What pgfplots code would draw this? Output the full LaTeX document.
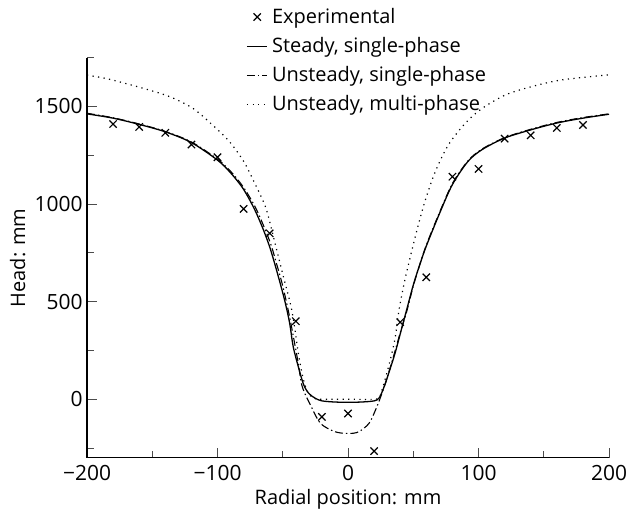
\documentclass[border=0pt]{standalone}
\usepackage{fontspec}
\setmainfont{Open Sans}
\usepackage{pgfplots}
\pgfplotsset{compat=1.18}

\begin{document}
\fontsize{10}{12}\selectfont
\begin{tikzpicture}
\begin{axis}[
    scale only axis,
    width=261.5pt, height=200.5pt,
    xmin=-200, xmax=200, ymin=-300, ymax=1750,
    axis x line=bottom, axis y line=left,
    axis line style={-, line width=0.6pt},
    xtick={-200,-100,0,100,200},
    xticklabels={−200,−100,0,100,200},
    minor xtick={-150,-50,50,150},
    ytick={0,500,1000,1500},
    minor ytick={-250,250,750,1250,1750},
    tick align=inside,
    major tick length=5pt, minor tick length=3.5pt,
    tick style={black!70, line width=0.5pt},
    /pgf/number format/assume math mode=true,
    tick label style={font=\fontsize{10.5}{12}\selectfont},
    xticklabel style={inner xsep=0pt},
    yticklabel style={/pgf/number format/1000 sep={}, inner xsep=2pt},
    xlabel={Radial position: mm},
    ylabel={Head: mm},
    xlabel style={at={(axis description cs:0.5,0)}, anchor=base,
        inner sep=0pt, yshift=-23.5pt},
    ylabel style={at={(axis description cs:-0.1185,0.5)}, anchor=base,
        inner xsep=0pt, inner ysep=5pt},
    legend style={at={(rel axis cs:0.293,1.145)}, anchor=north west,
        draw=none, fill=none, cells={anchor=west}, row sep=1.5pt},
    legend image code/.code={\draw[mark repeat=2,mark phase=2,#1]
        plot coordinates {(0cm,0cm) (0.18cm,0cm) (0.36cm,0cm)};},
]
\addplot[only marks, mark=x, mark size=2.6pt, line width=0.6pt] coordinates {
(-180,1410) (-160,1395) (-140,1365) (-120,1305) (-100,1240) (-80,975)
(-60,850) (-40,400) (-20,-90) (0,-73) (20,-265) (40,395) (60,625)
(80,1140) (100,1180) (120,1335) (140,1352) (160,1390) (180,1405)
};
\addlegendentry{Experimental}
\addplot[smooth, tension=0.5, line width=0.65pt] coordinates {
(-200,1462) (-180,1440) (-160,1408) (-140,1370) (-120,1315) (-100,1225)
(-90,1160) (-80,1075) (-70,950) (-60,780) (-50,545) (-45,400) (-42,270)
(-38,165) (-34,75) (-30,30) (-25,5) (-20,-8) (-10,-14) (0,-15) (10,-14)
(20,-8) (24,8) (28,70) (31,130) (36,235) (41,360) (45,460) (50,585)
(55,690) (60,785) (70,950) (80,1100) (92,1219) (103,1280) (120,1338)
(140,1380) (160,1415) (180,1440) (200,1460)
};
\addlegendentry{Steady, single-phase}
\addplot[smooth, tension=0.5, line width=0.55pt, dash pattern=on 4pt off 1.5pt on 0.7pt off 1.5pt] coordinates {
(-200,1465) (-180,1442) (-160,1410) (-140,1372) (-120,1318) (-100,1230)
(-90,1168) (-80,1085) (-70,970) (-60,810) (-55,700) (-50,580) (-45,430)
(-41,290) (-38,180) (-35,63) (-28,-40) (-21,-124) (-10,-166) (0,-175)
(8,-167) (16,-124) (21,-56) (25,12) (29,90) (34,200) (40,340) (45,450)
(50,580) (55,690) (60,790) (70,955) (80,1105) (92,1222) (103,1283) (120,1340)
(140,1383) (160,1418) (180,1443) (200,1462)
};
\addlegendentry{Unsteady, single-phase}
\addplot[smooth, tension=0.5, line width=0.6pt, dash pattern=on 0.6pt off 2.2pt] coordinates {
(-200,1660) (-184,1641) (-157,1593) (-137,1551) (-119,1491) (-104,1406)
(-91,1321) (-80,1219) (-71,1100) (-63,981) (-57,828) (-50,641) (-43,454)
(-38,233) (-34,97) (-30,25) (-25,3) (-20,0) (0,0) (20,0) (24,10) (26,46)
(31,165) (36,310) (39,454) (44,624) (52,845) (59,1015) (67,1168)
(77,1304) (90,1415) (103,1491) (121,1560) (141,1602) (164,1636) (200,1662)
};
\addlegendentry{Unsteady, multi-phase}
\end{axis}
\end{tikzpicture}
\end{document}
